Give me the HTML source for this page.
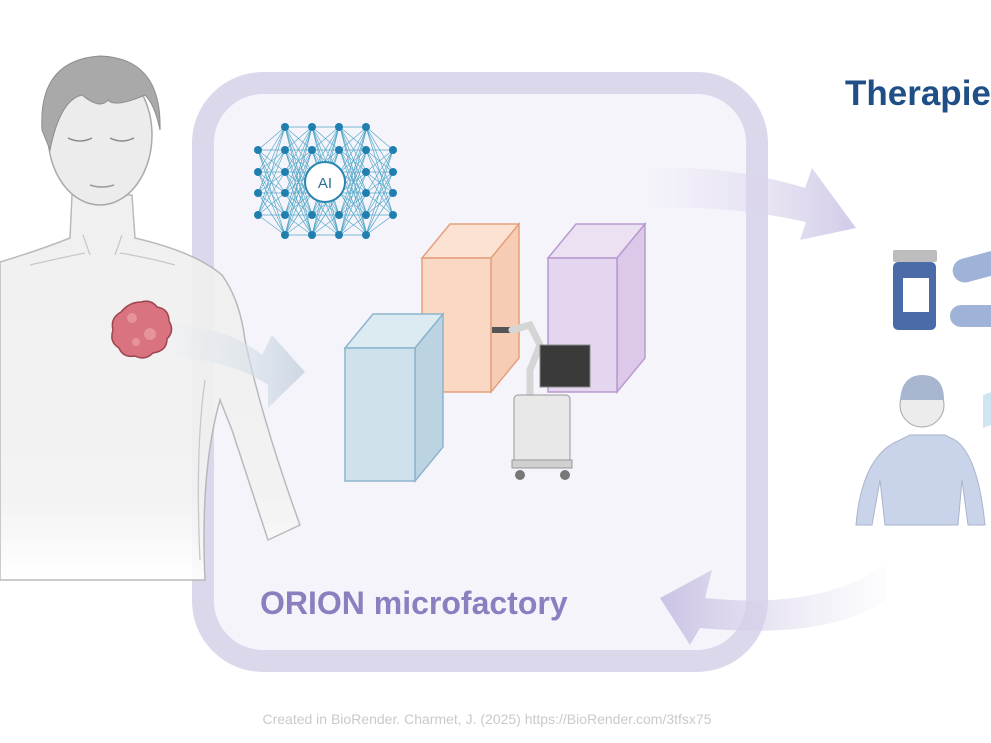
<!DOCTYPE html>
<html><head><meta charset="utf-8"><style>
html,body{margin:0;padding:0;background:#fff;width:991px;height:743px;overflow:hidden}
svg{display:block}
</style></head><body>
<svg width="991" height="743" viewBox="0 0 991 743" xmlns="http://www.w3.org/2000/svg" xmlns:xlink="http://www.w3.org/1999/xlink" font-family="Liberation Sans, sans-serif">
<defs>
<linearGradient id="bodyfade" x1="0" y1="0" x2="0" y2="1">
<stop offset="0" stop-color="#efefef"/><stop offset="0.78" stop-color="#f2f2f2"/><stop offset="1" stop-color="#ffffff"/></linearGradient>
<linearGradient id="arr1" x1="0" y1="0" x2="1" y2="0">
<stop offset="0" stop-color="#dfe6ee" stop-opacity="0.1"/><stop offset="1" stop-color="#cdd8e4"/></linearGradient>
<linearGradient id="arr2" x1="0" y1="0" x2="1" y2="0">
<stop offset="0" stop-color="#e4e0f0" stop-opacity="0.1"/><stop offset="1" stop-color="#d2cbe8"/></linearGradient>
<linearGradient id="arr3" x1="1" y1="0" x2="0" y2="0">
<stop offset="0" stop-color="#e4e0f0" stop-opacity="0.1"/><stop offset="1" stop-color="#cbc3e4"/></linearGradient>
<path id="edge" d="M258 150L285 127M258 150L285 150M258 150L285 172M258 150L285 193M258 150L285 215M258 150L285 235M258 172L285 127M258 172L285 150M258 172L285 172M258 172L285 193M258 172L285 215M258 172L285 235M258 193L285 127M258 193L285 150M258 193L285 172M258 193L285 193M258 193L285 215M258 193L285 235M258 215L285 127M258 215L285 150M258 215L285 172M258 215L285 193M258 215L285 215M258 215L285 235"/>
<path id="mid" d="M285 127L312 127M285 127L312 150M285 127L312 172M285 127L312 193M285 127L312 215M285 127L312 235M285 150L312 127M285 150L312 150M285 150L312 172M285 150L312 193M285 150L312 215M285 150L312 235M285 172L312 127M285 172L312 150M285 172L312 172M285 172L312 193M285 172L312 215M285 172L312 235M285 193L312 127M285 193L312 150M285 193L312 172M285 193L312 193M285 193L312 215M285 193L312 235M285 215L312 127M285 215L312 150M285 215L312 172M285 215L312 193M285 215L312 215M285 215L312 235M285 235L312 127M285 235L312 150M285 235L312 172M285 235L312 193M285 235L312 215M285 235L312 235"/>
</defs>

<!-- frame -->
<rect x="203" y="83" width="554" height="578" rx="60" fill="#f6f4fb" stroke="#dcd8ec" stroke-width="22"/>

<!-- AI network -->
<g stroke="#3a9bc0" stroke-width="0.7" opacity="0.85" fill="none">
<use xlink:href="#edge" href="#edge"/>
<use xlink:href="#mid" href="#mid"/>
<use xlink:href="#mid" href="#mid" transform="translate(27,0)"/>
<use xlink:href="#mid" href="#mid" transform="translate(55,0)"/>
<use xlink:href="#edge" href="#edge" transform="translate(651,0) scale(-1,1)"/>
</g>
<g fill="#1f7fae">
<circle cx="258" cy="150" r="4"/><circle cx="258" cy="172" r="4"/><circle cx="258" cy="193" r="4"/><circle cx="258" cy="215" r="4"/>
<circle cx="285" cy="127" r="4"/><circle cx="285" cy="150" r="4"/><circle cx="285" cy="172" r="4"/><circle cx="285" cy="193" r="4"/><circle cx="285" cy="215" r="4"/><circle cx="285" cy="235" r="4"/>
<circle cx="312" cy="127" r="4"/><circle cx="312" cy="150" r="4"/><circle cx="312" cy="215" r="4"/><circle cx="312" cy="235" r="4"/>
<circle cx="339" cy="127" r="4"/><circle cx="339" cy="150" r="4"/><circle cx="339" cy="215" r="4"/><circle cx="339" cy="235" r="4"/>
<circle cx="366" cy="127" r="4"/><circle cx="366" cy="150" r="4"/><circle cx="366" cy="172" r="4"/><circle cx="366" cy="193" r="4"/><circle cx="366" cy="215" r="4"/><circle cx="366" cy="235" r="4"/>
<circle cx="393" cy="150" r="4"/><circle cx="393" cy="172" r="4"/><circle cx="393" cy="193" r="4"/><circle cx="393" cy="215" r="4"/>
</g>
<circle cx="325" cy="182" r="20" fill="#fff" stroke="#2a86b0" stroke-width="2"/>
<text x="325" y="188" font-size="15" fill="#2a6f95" text-anchor="middle">AI</text>

<!-- human -->
<g opacity="0.92">
<path d="M0 262 Q40 250 70 238 L72 195 L132 195 L135 238 Q195 252 222 275 Q240 300 245 340 Q262 420 300 525 L268 540 Q245 470 232 430 L220 400 Q200 470 205 580 L0 580 Z" fill="url(#bodyfade)" stroke="#b5b5b5" stroke-width="1.5"/>
</g>
<path d="M205 380 Q195 450 200 560 M30 265 Q60 258 85 253 M120 253 Q150 258 175 265 M83 235 L90 255 M122 235 L115 255" stroke="#c8c8c8" stroke-width="1.3" fill="none"/>
<ellipse cx="100" cy="135" rx="52" ry="70" fill="#ececec" stroke="#aaa" stroke-width="1.5"/>
<path d="M42 130 Q38 60 100 56 Q162 58 160 130 Q155 105 145 95 Q115 108 108 100 Q100 110 82 95 Q60 100 50 150 Z" fill="#a9a9a9" stroke="#8d8d8d"/>
<path d="M68 138 q12 6 24 0 M110 138 q12 6 24 0" stroke="#888" stroke-width="1.5" fill="none"/>
<path d="M90 185 q12 4 24 0" stroke="#999" stroke-width="1.5" fill="none"/>
<path d="M141 302 q10 -3 16 5 q12 2 12 14 q6 10 -2 18 q0 12 -14 14 q-8 8 -18 3 q-12 2 -16 -8 q-10 -6 -6 -18 q-3 -12 8 -18 q8 -10 20 -10z" fill="#d9737f" stroke="#9e4550" stroke-width="1.5"/>
<circle cx="132" cy="318" r="5" fill="#e6939b"/><circle cx="150" cy="334" r="6" fill="#e6939b"/><circle cx="136" cy="342" r="4" fill="#e6939b"/>

<!-- arrows -->
<path d="M175 325 Q230 328 262 355 L272 335 L305 372 L268 408 L268 385 Q230 360 175 358 Z" fill="url(#arr1)"/>
<path d="M650 168 Q730 165 805 188 L812 168 L856 228 L800 240 L806 222 Q730 205 650 208 Z" fill="url(#arr2)"/>
<path d="M885 565 Q820 610 705 598 L712 570 L660 598 L690 645 L700 628 Q830 640 885 600 Z" fill="url(#arr3)"/>

<!-- orange box -->
<g stroke="#e5a07c" stroke-width="1.5">
<polygon points="422,258 450,224 519,224 491,258" fill="#fbe2d3"/>
<polygon points="491,258 519,224 519,358 491,392" fill="#f6cdb4"/>
<rect x="422" y="258" width="69" height="134" fill="#fad8c3"/>
</g>
<!-- purple box -->
<g stroke="#b89ad0" stroke-width="1.5">
<polygon points="548,258 576,224 645,224 617,258" fill="#ece0f3"/>
<polygon points="617,258 645,224 645,358 617,392" fill="#dcc9ea"/>
<rect x="548" y="258" width="69" height="134" fill="#e5d6ef"/>
</g>
<!-- blue box -->
<g stroke="#8cb5cc" stroke-width="1.5">
<polygon points="345,348 373,314 443,314 415,348" fill="#dceaf2"/>
<polygon points="415,348 443,314 443,447 415,481" fill="#bcd4e2"/>
<rect x="345" y="348" width="70" height="133" fill="#cfe2ec"/>
</g>

<!-- robot -->
<rect x="492" y="327" width="20" height="6" fill="#555"/>
<path d="M512 330 L530 325 L540 345 L530 370 L530 395" stroke="#d5d5d5" stroke-width="7" fill="none" stroke-linecap="round"/>
<rect x="540" y="345" width="50" height="42" fill="#3a3a3a" stroke="#888"/>
<rect x="514" y="395" width="56" height="70" rx="4" fill="#e8e8e8" stroke="#999"/>
<rect x="512" y="460" width="60" height="8" fill="#d0d0d0" stroke="#999"/>
<circle cx="520" cy="475" r="5" fill="#777"/><circle cx="565" cy="475" r="5" fill="#777"/>

<!-- right side -->
<rect x="893" y="250" width="44" height="12" rx="2" fill="#bdbdbd"/>
<rect x="893" y="262" width="43" height="68" rx="5" fill="#4b6aa8"/>
<rect x="903" y="278" width="26" height="34" fill="#fff"/>
<rect x="950" y="262" width="60" height="24" rx="12" fill="#9fb3d8" transform="rotate(-15 950 262)"/>
<rect x="950" y="305" width="60" height="22" rx="11" fill="#9fb3d8"/>
<path d="M983 395 L991 392 L991 425 L983 428 Z" fill="#cfe6f2"/>
<path d="M856 525 Q862 455 900 440 L910 435 L945 435 L955 440 Q978 455 985 525 L968 525 L962 480 L958 525 L885 525 L880 480 L872 525 Z" fill="#c9d3ea" stroke="#aab4cc"/>
<circle cx="922" cy="405" r="22" fill="#ececec" stroke="#aaa"/>
<path d="M900 400 Q902 375 922 375 Q944 375 944 400 Z" fill="#a7b5cf"/>

<!-- text -->
<text x="845" y="105" font-size="35" font-weight="bold" fill="#1f4f86">Therapies</text>
<text x="260" y="614" font-size="32" font-weight="bold" fill="#8b7fc0">ORION microfactory</text>
<text x="487" y="724" font-size="14" fill="#cacaca" text-anchor="middle">Created in BioRender. Charmet, J. (2025) https://BioRender.com/3tfsx75</text>
</svg>
</body></html>
